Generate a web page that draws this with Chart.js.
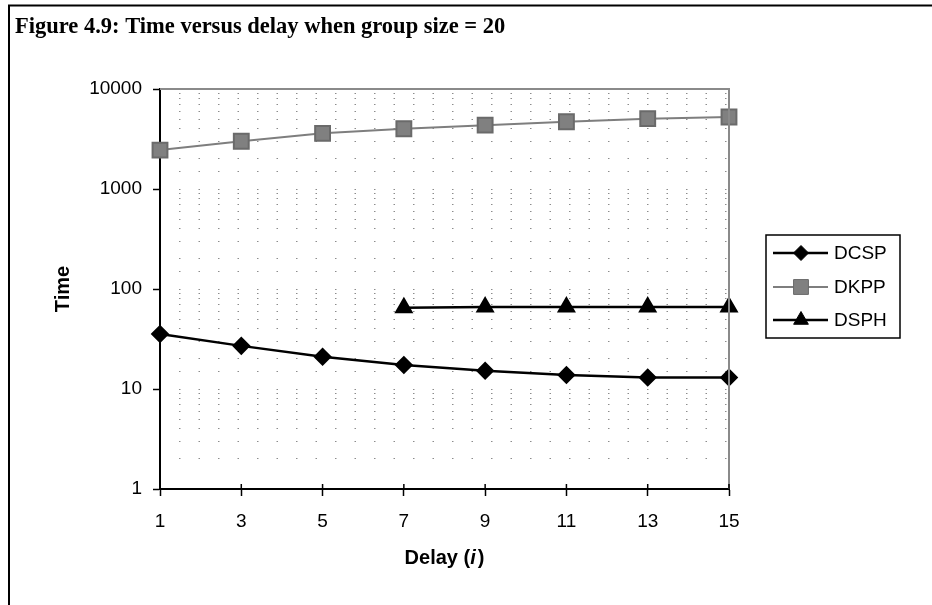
<!DOCTYPE html>
<html>
<head>
<meta charset="utf-8">
<script src="https://cdn.jsdelivr.net/npm/chart.js@4/dist/chart.umd.min.js"></script>
<style>
  body { margin: 0; background: #fff; }
  #wrap { width: 932px; height: 605px; }
</style>
</head>
<body>
<div id="wrap"><canvas id="myChart" width="932" height="605"></canvas></div>
<script>
// data
const delays = [1, 3, 5, 7, 9, 11, 13, 15];
const dcsp = [35.5, 27, 21, 17.4, 15.2, 13.8, 13, 13];
const dkpp = [2450, 3000, 3600, 4000, 4350, 4700, 5050, 5250];
const dsph = [null, null, null, 65, 66, 66, 66, 66];
const seriesNames = ["DCSP", "DKPP", "DSPH"];
const yTickLabels = [1, 10, 100, 1000, 10000];

function toPoints(vals) {
  return delays.map((d, i) => ({ x: d, y: vals[i] }));
}

const FONT = "'Liberation Sans', Arial, sans-serif";

const frame = {
  id: "frame",
  afterDraw(chart) {
    const ctx = chart.ctx;
    const a = chart.chartArea;
    ctx.save();

    // outer figure frame (top + left)
    ctx.strokeStyle = "#000";
    ctx.lineWidth = 2;
    ctx.beginPath();
    ctx.moveTo(8, 5.5); ctx.lineTo(932, 5.5);
    ctx.moveTo(9, 5); ctx.lineTo(9, 605);
    ctx.stroke();

    // title
    ctx.fillStyle = "#000";
    ctx.font = "bold 22.5px 'Liberation Serif', 'Times New Roman', serif";
    ctx.textBaseline = "alphabetic";
    ctx.textAlign = "left";
    ctx.fillText("Figure 4.9: Time versus delay when group size = 20", 15, 33);

    // plot area top & right border
    ctx.strokeStyle = "#8a8a8a";
    ctx.lineWidth = 2;
    ctx.beginPath();
    ctx.moveTo(a.left, a.top); ctx.lineTo(a.right, a.top); ctx.lineTo(a.right, a.bottom);
    ctx.stroke();

    // x tick marks also poke slightly above the axis
    ctx.strokeStyle = "#000";
    ctx.lineWidth = 1.5;
    const xs = chart.scales.x;
    ctx.beginPath();
    delays.forEach((d) => {
      const px = xs.getPixelForValue(d);
      ctx.moveTo(px, a.bottom - 5); ctx.lineTo(px, a.bottom);
    });
    ctx.stroke();

    // x axis title with italic i
    ctx.fillStyle = "#000";
    ctx.textBaseline = "middle";
    const p1 = "Delay (", p2 = "i", p3 = ")";
    ctx.font = "bold 20px " + FONT;
    const w1 = ctx.measureText(p1).width, w3 = ctx.measureText(p3).width;
    ctx.font = "italic bold 20px " + FONT;
    const w2 = ctx.measureText(p2).width + 2;
    let x = (a.left + a.right) / 2 - (w1 + w2 + w3) / 2;
    const y = 558;
    ctx.font = "bold 20px " + FONT;
    ctx.fillText(p1, x, y);
    ctx.font = "italic bold 20px " + FONT;
    ctx.fillText(p2, x + w1, y);
    ctx.font = "bold 20px " + FONT;
    ctx.fillText(p3, x + w1 + w2, y);

    // legend
    ctx.strokeStyle = "#000";
    ctx.lineWidth = 1.5;
    ctx.strokeRect(766, 235, 134, 103);
    const rows = [253, 287, 320];
    chart.data.datasets.forEach((ds, i) => {
      const ly = rows[i];
      ctx.strokeStyle = ds.borderColor;
      ctx.lineWidth = ds.borderWidth;
      ctx.beginPath();
      ctx.moveTo(773, ly); ctx.lineTo(828, ly);
      ctx.stroke();
      ctx.fillStyle = ds.pointBackgroundColor;
      ctx.strokeStyle = ds.pointBorderColor;
      ctx.lineWidth = 1;
      Chart.helpers.drawPoint(ctx, { pointStyle: ds.pointStyle, radius: ds.pointRadius, rotation: 0, borderWidth: 1 }, 801, ly);
      ctx.fillStyle = "#000";
      ctx.font = "19px " + FONT;
      ctx.textAlign = "left";
      ctx.fillText(ds.label, 834, ly + 1);
    });
    ctx.restore();
  }
};

new Chart("myChart", {
  type: "line",
  data: {
    datasets: [
      {
        label: seriesNames[0], data: toPoints(dcsp), clip: false,
        borderColor: "#000", borderWidth: 2.5,
        pointStyle: "rectRot", pointRadius: 7.5,
        pointBackgroundColor: "#000", pointBorderColor: "#000"
      },
      {
        label: seriesNames[1], data: toPoints(dkpp), clip: false,
        borderColor: "#7e7e7e", borderWidth: 2,
        pointStyle: "rect", pointRadius: 10.5,
        pointBackgroundColor: "#808080", pointBorderColor: "#6a6a6a"
      },
      {
        label: seriesNames[2], data: toPoints(dsph), clip: false,
        borderColor: "#000", borderWidth: 2.5,
        pointStyle: "triangle", pointRadius: 8.5,
        pointBackgroundColor: "#000", pointBorderColor: "#000"
      }
    ]
  },
  options: {
    responsive: false,
    devicePixelRatio: 1,
    animation: false,
    layout: { padding: { left: 14, top: 89, right: 203, bottom: 6 } },
    plugins: { legend: { display: false }, title: { display: false }, tooltip: { enabled: false } },
    scales: {
      x: {
        type: "linear", min: 1, max: 15,
        afterFit(scale) { scale.height = 110; },
        border: { color: "#000", width: 2 },
        grid: { drawOnChartArea: false, drawTicks: true, tickLength: 7, tickColor: "#000", tickWidth: 1.5 },
        ticks: { stepSize: 2, color: "#000", font: { family: FONT, size: 19 }, padding: 14 }
      },
      y: {
        type: "logarithmic", min: 1, max: 10000,
        afterFit(scale) { scale.width = 146; },
        border: { color: "#000", width: 2, dash: [1.5, 18], dashOffset: -18 },
        grid: {
          color: (c) => (c.tick && (c.tick.value === 1 || c.tick.value === 10000)) ? "transparent" : "#8c8c8c",
          lineWidth: 1,
          drawTicks: true, tickLength: 7, tickWidth: 1.5, tickBorderDash: [],
          tickColor: (c) => yTickLabels.includes(c.tick && c.tick.value) ? "#000" : "transparent"
        },
        ticks: {
          autoSkip: false, color: "#000", font: { family: FONT, size: 19 }, padding: 11,
          callback: (v) => yTickLabels.includes(v) ? String(v) : ""
        },
        title: { display: true, text: "Time", color: "#000", font: { family: FONT, size: 20, weight: "bold" }, padding: { top: 37 } }
      }
    }
  },
  plugins: [frame]
});
</script>
</body>
</html>
